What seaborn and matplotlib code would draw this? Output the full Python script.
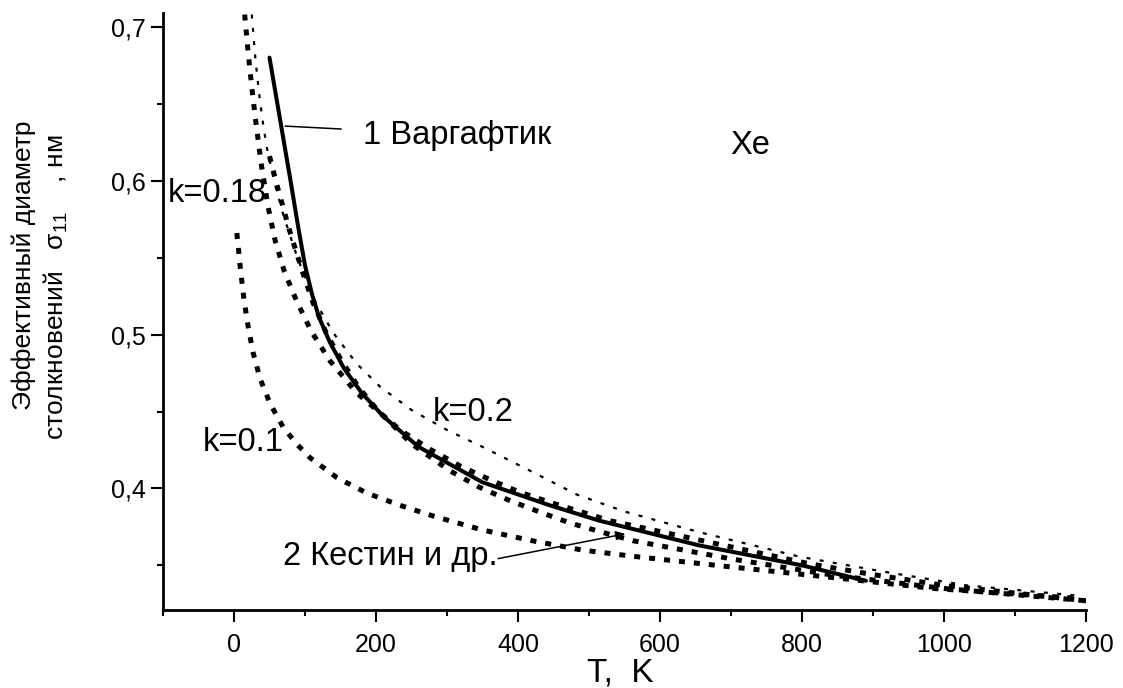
import matplotlib
matplotlib.use('Agg')
import matplotlib.pyplot as plt
import seaborn as sns
from matplotlib.ticker import FixedLocator, MultipleLocator, FuncFormatter

# ---------------- data ----------------
# 1 Варгафтик (solid)
T_varg = [50, 60, 70, 80, 90, 100, 110, 120, 135, 155, 180, 210, 260, 350, 445, 515, 585, 655, 800, 890]
s_varg = [0.680, 0.653, 0.626, 0.599, 0.571, 0.545, 0.526, 0.511, 0.495, 0.478, 0.462, 0.447,
          0.427, 0.404, 0.389, 0.379, 0.371, 0.363, 0.350, 0.340]

# 2 Кестин и др. (thick dashed)
T_kest = [50, 60, 78, 97, 111, 130, 149, 175, 200, 250, 304, 346, 389, 431, 473, 515, 562, 703, 844, 1000, 1200]
s_kest = [0.616, 0.598, 0.568, 0.540, 0.521, 0.501, 0.485, 0.466, 0.452, 0.429, 0.4115, 0.4007,
          0.392, 0.3846, 0.3776, 0.372, 0.366, 0.354, 0.3436, 0.335, 0.327]

# k = 0.18 (thick dashed)
T_k018 = [15, 20, 25, 30, 38, 48, 58, 71, 88, 109, 135, 173, 234, 276, 318, 361, 403, 445,
          530, 670, 811, 900, 1000, 1100, 1200]
s_k018 = [0.708, 0.683, 0.661, 0.641, 0.612, 0.583, 0.561, 0.541, 0.522, 0.502, 0.483,
          0.462, 0.438, 0.4255, 0.4147, 0.4056, 0.3975, 0.391, 0.379, 0.365, 0.351, 0.344, 0.337,
          0.332, 0.327]

# k = 0.2 (thin dotted)
T_k02 = [25, 30, 35, 40, 46, 58, 70, 90, 115, 140, 173, 206, 250, 300, 350, 417, 483, 550, 656, 797,
         914, 1032, 1196]
s_k02 = [0.708, 0.680, 0.658, 0.640, 0.622, 0.597, 0.577, 0.549, 0.521, 0.501, 0.481, 0.466, 0.451,
         0.438, 0.427, 0.4115, 0.396, 0.385, 0.3715, 0.3556, 0.346, 0.337, 0.330]

# k = 0.1 (thick dashed)
T_k01 = [4, 9, 14, 20, 27, 37, 51, 69, 88, 107, 145, 187, 234, 281, 350, 420, 490, 560, 700, 845,
         985, 1190]
s_k01 = [0.566, 0.543, 0.523, 0.505, 0.488, 0.471, 0.455, 0.440, 0.429, 0.420, 0.407, 0.397, 0.389,
         0.382, 0.373, 0.366, 0.360, 0.356, 0.349, 0.342, 0.335, 0.3285]

x_major = [0, 200, 400, 600, 800, 1000, 1200]
y_major = [0.4, 0.5, 0.6, 0.7]
y_minor = [0.35, 0.45, 0.55, 0.65]

# ---------------- style ----------------
sns.set_style('ticks')
plt.rcParams['font.family'] = ['Liberation Sans', 'DejaVu Sans']
plt.rcParams['mathtext.fontset'] = 'custom'
plt.rcParams['mathtext.rm'] = 'Liberation Sans'
plt.rcParams['mathtext.it'] = 'Liberation Sans'
for key in ['text.color', 'axes.labelcolor', 'xtick.color', 'ytick.color', 'axes.edgecolor']:
    plt.rcParams[key] = 'black'

fig = plt.figure(figsize=(11.23, 6.88), dpi=100)
ax = fig.add_axes([163 / 1123, 78 / 688, (1086 - 163) / 1123, (610 - 13) / 688])

common = dict(ax=ax, color='black', sort=False, errorbar=None)
sns.lineplot(x=T_k02, y=s_k02, lw=1.6, linestyle=(0, (1.8, 4.2)), **common)
sns.lineplot(x=T_k01, y=s_k01, lw=3.6, linestyle=(0, (1.2, 1.8)), **common)
sns.lineplot(x=T_k018, y=s_k018, lw=3.6, linestyle=(0, (1.2, 1.8)), **common)
sns.lineplot(x=T_kest, y=s_kest, lw=3.6, linestyle=(0, (1.2, 1.8)), **common)
sns.lineplot(x=T_varg, y=s_varg, lw=2.9, linestyle='-', **common)

ax.set_xlim(-100, 1200)
ax.set_ylim(0.321, 0.709)

ax.xaxis.set_major_locator(FixedLocator(x_major))
ax.xaxis.set_minor_locator(MultipleLocator(100))
ax.yaxis.set_major_locator(FixedLocator(y_major))
ax.yaxis.set_minor_locator(FixedLocator(y_minor))
ax.yaxis.set_major_formatter(FuncFormatter(lambda v, p: f"{v:.1f}".replace('.', ',')))

ax.tick_params(which='major', direction='out', length=8.6, width=1.5, labelsize=18,
               color='black', labelcolor='black')
ax.tick_params(axis='x', which='major', pad=8)
ax.tick_params(axis='y', which='major', pad=4)
ax.tick_params(which='minor', direction='out', length=4.3, width=1.5, color='black')

for side in ['top', 'right']:
    ax.spines[side].set_visible(False)
for side in ['left', 'bottom']:
    ax.spines[side].set_linewidth(2)
    ax.spines[side].set_color('black')

ax.set_xlabel('T,  K', fontsize=24, color='black')
ax.xaxis.set_label_coords(0.4957, -0.079)
ax.set_ylabel('')

# y label, two lines
fig.text(24 / 1123, 1 - 410 / 688, 'Эффективный диаметр', rotation=90, fontsize=19,
         ha='center', va='bottom', color='black')
fig.text(56 / 1123, 1 - 440 / 688, 'столкновений   $\\mathregular{\\sigma_{11}}$    , нм',
         rotation=90, fontsize=19, ha='center', va='bottom', color='black')

# annotations
tfs = 23.5
ax.text(182, 0.6297, '1 Варгафтик', fontsize=tfs, ha='left', va='center')
ax.annotate('', xy=(72, 0.6355), xytext=(151, 0.6336),
            arrowprops=dict(arrowstyle='-', lw=1.1, color='black', shrinkA=0, shrinkB=0))
ax.text(69, 0.3557, '2 Кестин и др.', fontsize=tfs, ha='left', va='center')
ax.annotate('', xy=(551, 0.3705), xytext=(372, 0.3544),
            arrowprops=dict(arrowstyle='-|>', lw=1.1, color='black', shrinkA=0, shrinkB=0,
                            mutation_scale=14))
ax.text(-94, 0.592, 'k=0.18', fontsize=tfs, ha='left', va='center')
ax.text(280, 0.4494, 'k=0.2', fontsize=tfs, ha='left', va='center')
ax.text(-44, 0.430, 'k=0.1', fontsize=tfs, ha='left', va='center')
ax.text(699, 0.6226, 'Xe', fontsize=tfs, ha='left', va='center')

fig.savefig('out.png', dpi=100)
